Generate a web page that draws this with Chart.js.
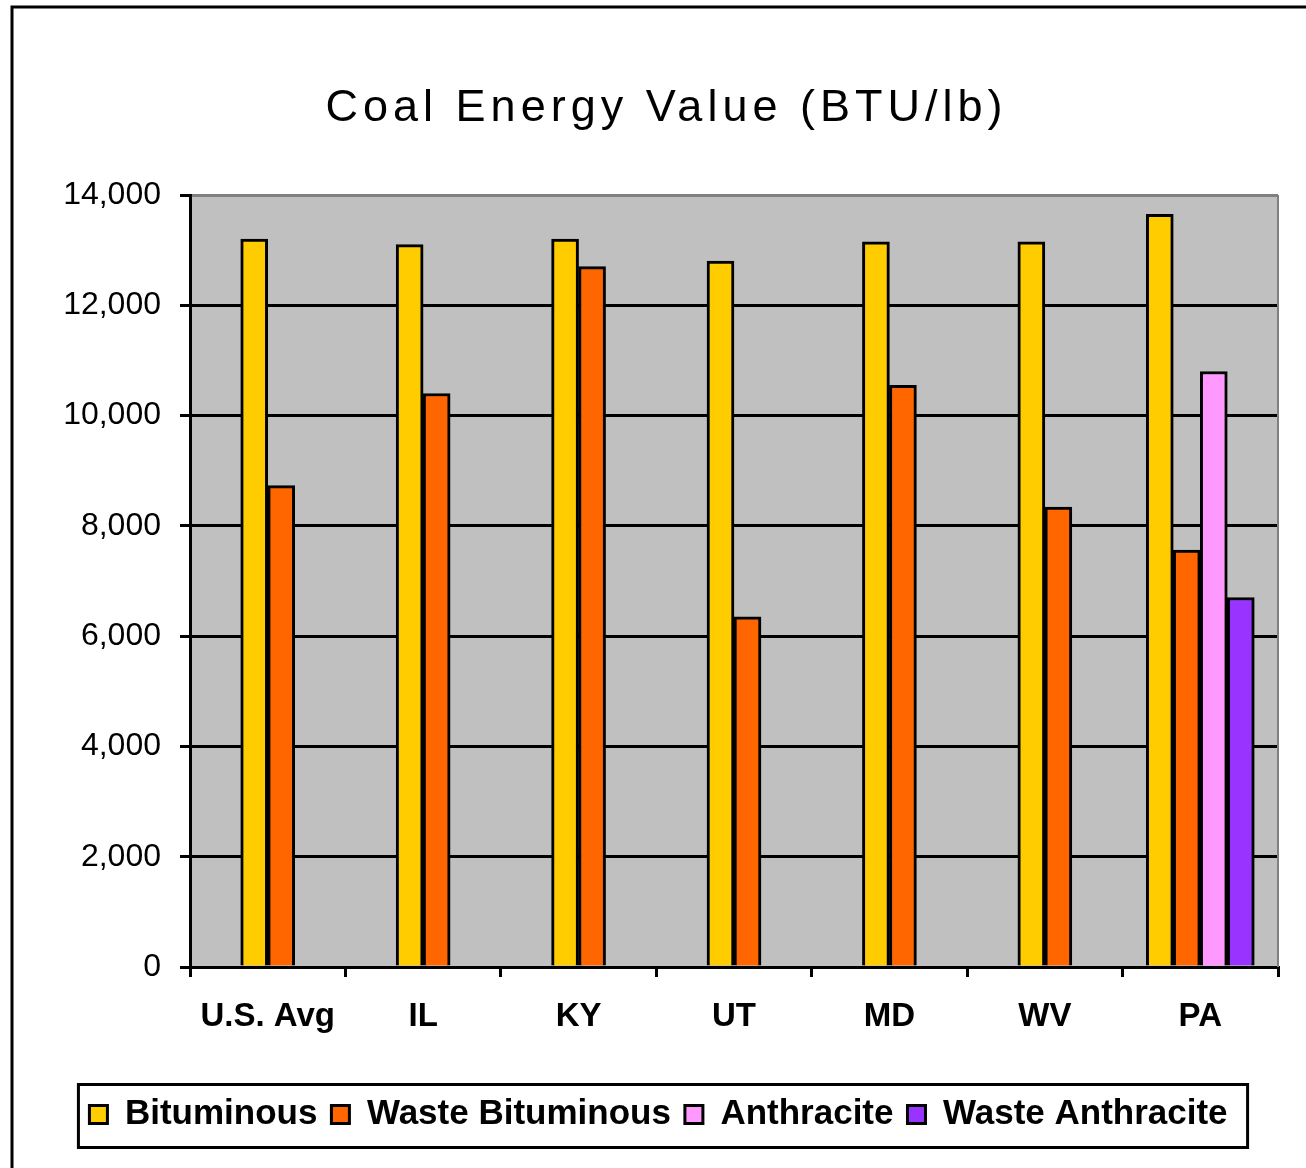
<!DOCTYPE html>
<html>
<head>
<meta charset="utf-8">
<script src="https://cdn.jsdelivr.net/npm/chart.js@4.4.1/dist/chart.umd.min.js"></script>
<style>
html,body{margin:0;padding:0;background:#fff;}
#wrap{width:1306px;height:1168px;position:relative;}
canvas{display:block;}
</style>
</head>
<body>
<div id="wrap"><canvas id="c" width="1306" height="1168"></canvas></div>
<script>
const categories = ['U.S. Avg', 'IL', 'KY', 'UT', 'MD', 'WV', 'PA'];
const bituminous = [13200, 13100, 13200, 12800, 13150, 13150, 13650];
const wasteBituminous = [8730, 10400, 12700, 6350, 10550, 8340, 7560];
const anthracite = [null, null, null, null, null, null, 10800];
const wasteAnthracite = [null, null, null, null, null, null, 6700];
const seriesNames = ['Bituminous', 'Waste Bituminous', 'Anthracite', 'Waste Anthracite'];
const seriesColors = ['#FFCC00', '#FF6600', '#FF99FF', '#9933FF'];
const yTickValues = [0, 2000, 4000, 6000, 8000, 10000, 12000, 14000];
const titleText = 'Coal Energy Value (BTU/lb)';

const FONT = "'Liberation Sans', Arial, sans-serif";

const framePlugin = {
  id: 'frame',
  afterLayout(chart) {
    const tb = chart.titleBlock;
    if (tb && !tb._spaced) {
      const orig = tb.draw;
      tb.draw = function (...args) {
        const ctx = this.ctx;
        const prev = ctx.letterSpacing;
        ctx.save();
        ctx.translate(8, 0);
        ctx.letterSpacing = '5px';
        orig.apply(this, args);
        ctx.restore();
        ctx.letterSpacing = prev || '0px';
      };
      tb._spaced = true;
    }
  },
  beforeDraw(chart) {
    const ctx = chart.ctx;
    const a = chart.chartArea;
    ctx.save();
    ctx.fillStyle = '#ffffff';
    ctx.fillRect(0, 0, chart.width, chart.height);
    ctx.strokeStyle = '#000000';
    ctx.lineWidth = 3;
    ctx.strokeRect(12, 7, chart.width + 50, chart.height + 50);
    ctx.fillStyle = '#C0C0C0';
    ctx.fillRect(a.left, a.top, a.right - a.left, a.bottom - a.top);
    ctx.restore();
  },
  beforeDatasetsDraw(chart) {
    const ctx = chart.ctx;
    const a = chart.chartArea;
    ctx.save();
    ctx.strokeStyle = '#808080';
    ctx.lineWidth = 2;
    ctx.beginPath();
    ctx.moveTo(a.right, a.top);
    ctx.lineTo(a.right, a.bottom);
    ctx.stroke();
    ctx.restore();
  },
  afterDraw(chart) {
    const ctx = chart.ctx;
    const lg = chart.legend;
    if (!lg || !lg.legendHitBoxes || !lg.legendHitBoxes.length) return;
    const hb = lg.legendHitBoxes;
    const first = hb[0], last = hb[hb.length - 1];
    const left = first.left - 11;
    const right = last.left + last.width + 20;
    const cy = first.top + first.height / 2;
    ctx.save();
    ctx.strokeStyle = '#000000';
    ctx.lineWidth = 3;
    ctx.strokeRect(left, cy - 30, right - left, 63);
    ctx.restore();
  }
};

const datasets = [bituminous, wasteBituminous, anthracite, wasteAnthracite].map((d, i) => ({
  label: seriesNames[i],
  data: d,
  backgroundColor: seriesColors[i],
  borderColor: '#000000',
  borderWidth: 3,
  borderSkipped: 'start',
  barThickness: 27,
  skipNull: true
}));

const chart = new Chart(document.getElementById('c'), {
  type: 'bar',
  data: { labels: categories, datasets },
  options: {
    responsive: false,
    animation: false,
    devicePixelRatio: 1,
    layout: { padding: { left: 11, right: 0, top: 0, bottom: 26 } },
    plugins: {
      title: {
        display: true,
        text: titleText,
        color: '#000000',
        font: { family: FONT, size: 45, weight: 'normal', lineHeight: 1.2 },
        padding: { top: 82, bottom: 59 }
      },
      legend: {
        position: 'bottom',
        labels: {
          color: '#000000',
          font: { family: FONT, size: 35, weight: 'bold' },
          boxWidth: 18,
          boxHeight: 18,
          padding: 14
        }
      },
      tooltip: { enabled: false }
    },
    scales: {
      x: {
        grid: {
          offset: true,
          drawOnChartArea: false,
          drawTicks: true,
          tickLength: 10,
          color: '#000000',
          lineWidth: 3
        },
        border: { color: '#000000', width: 3 },
        ticks: {
          color: '#000000',
          font: { family: FONT, size: 33, weight: 'bold' },
          padding: 20,
          maxRotation: 0,
          autoSkip: false
        },
        afterFit(s) { s.height = 116; }
      },
      y: {
        min: 0,
        max: 14000,
        afterBuildTicks(s) { s.ticks = yTickValues.map(v => ({ value: v })); },
        grid: {
          color: (c) => (c.tick && c.tick.value === 14000 ? '#808080' : '#000000'),
          tickColor: '#000000',
          lineWidth: 3,
          tickLength: 10
        },
        border: { color: '#000000', width: 3 },
        ticks: {
          color: '#000000',
          font: { family: FONT, size: 32, weight: 'normal' },
          padding: 19,
          callback: (v) => Number(v).toLocaleString('en-US')
        },
        afterFit(s) { s.width = 179; }
      },
      y2: {
        position: 'right',
        display: true,
        grid: { display: false, drawTicks: false },
        border: { display: false },
        ticks: { display: false },
        afterFit(s) { s.width = 28; }
      }
    }
  },
  plugins: [framePlugin]
});
</script>
</body>
</html>
